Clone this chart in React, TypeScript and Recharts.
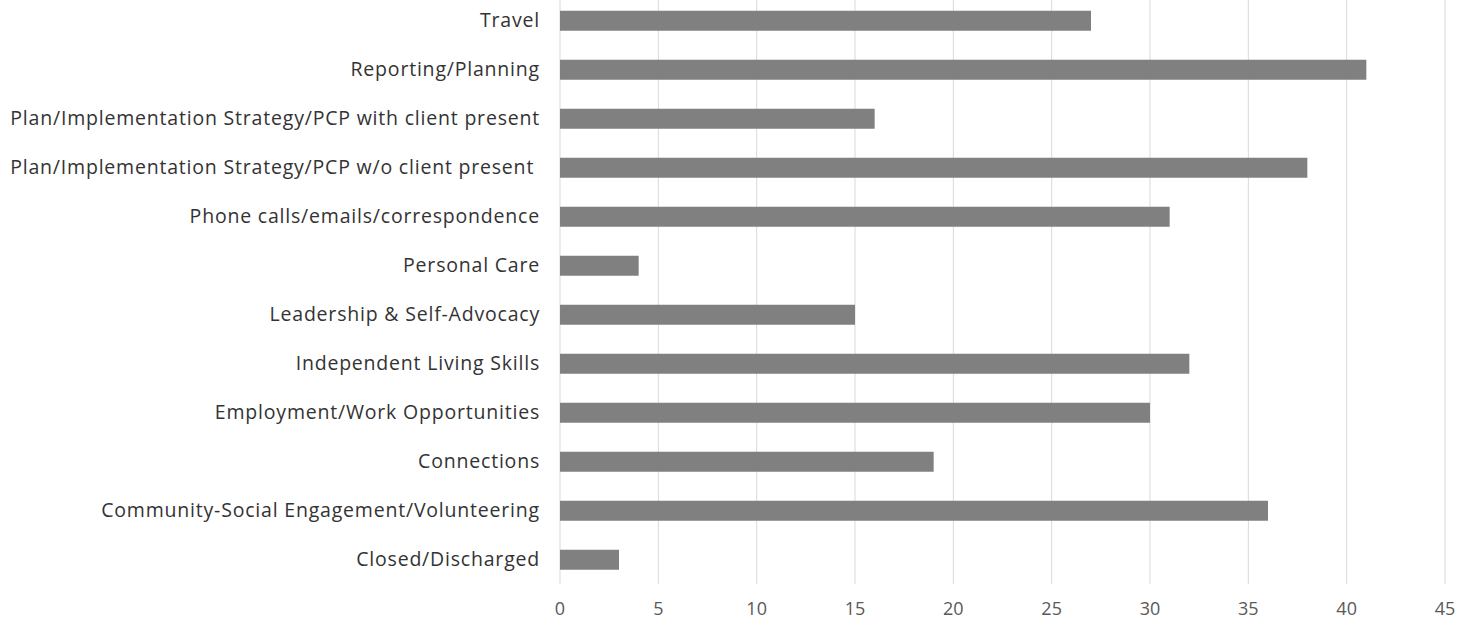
import { BarChart, Bar, XAxis, YAxis, CartesianGrid } from 'recharts';

// Activity categories, top to bottom
const categories = [
  'Travel',
  'Reporting/Planning',
  'Plan/Implementation Strategy/PCP with client present',
  'Plan/Implementation Strategy/PCP w/o client present\u00a0',
  'Phone calls/emails/correspondence',
  'Personal Care',
  'Leadership & Self-Advocacy',
  'Independent Living Skills',
  'Employment/Work Opportunities',
  'Connections',
  'Community-Social Engagement/Volunteering',
  'Closed/Discharged',
];

const counts = [27, 41, 16, 38, 31, 4, 15, 32, 30, 19, 36, 3];

const xTicks = [0, 5, 10, 15, 20, 25, 30, 35, 40, 45];

const data = categories.map((name, i) => ({ name, count: counts[i] }));

const FONT = '"Open Sans", Lato, sans-serif';

export default function App() {
  return (
    <div style={{ position: 'absolute', left: 0, top: -4, background: '#fff' }}>
      <BarChart
        width={1479}
        height={640}
        data={data}
        layout="vertical"
        barCategoryGap="30%"
        margin={{ top: 0, right: 34, left: 0, bottom: 22 }}
      >
        <CartesianGrid horizontal={false} stroke="#d9d9d9" strokeWidth={1} />
        <XAxis
          type="number"
          domain={[0, 45]}
          ticks={xTicks}
          axisLine={false}
          tickLine={false}
          tickMargin={12}
          tick={{ fill: '#595959', fontSize: 18, fontFamily: FONT }}
        />
        <YAxis
          type="category"
          dataKey="name"
          width={560}
          axisLine={false}
          tickLine={false}
          tickSize={0}
          tickMargin={20}
          interval={0}
          tick={{ fill: '#333333', fontSize: 19.5, fontFamily: FONT, letterSpacing: 0.8 }}
        />
        <Bar dataKey="count" fill="#808080" isAnimationActive={false} />
      </BarChart>
    </div>
  );
}
